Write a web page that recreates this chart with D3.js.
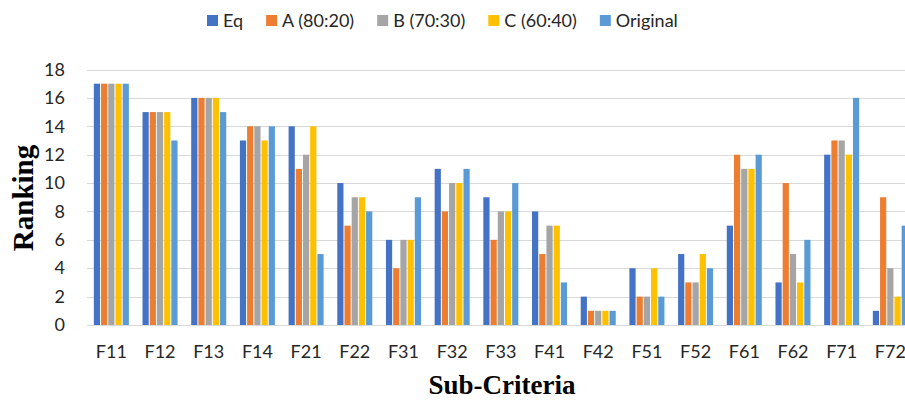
<!DOCTYPE html>
<html>
<head>
<meta charset="utf-8">
<script src="https://cdn.jsdelivr.net/npm/d3@7"></script>
<style>
  html, body { margin: 0; padding: 0; background: #fff; overflow: hidden; }
  svg { display: block; }
</style>
</head>
<body>
<svg id="chart" width="905" height="402"></svg>
<script>
// Sub-criteria on the x axis
const categories = ["F11","F12","F13","F14","F21","F22","F31","F32","F33","F41","F42","F51","F52","F61","F62","F71","F72"];

// Ranking of each sub-criterion under each weighting scenario
const eq       = [17,15,16,13,14,10, 6,11, 9, 8, 2, 4, 5, 7, 3,12, 1];
const a8020    = [17,15,16,14,11, 7, 4, 8, 6, 5, 1, 2, 3,12,10,13, 9];
const b7030    = [17,15,16,14,12, 9, 6,10, 8, 7, 1, 2, 3,11, 5,13, 4];
const c6040    = [17,15,16,13,14, 9, 6,10, 8, 7, 1, 4, 5,11, 3,12, 2];
const original = [17,13,15,14, 5, 8, 9,11,10, 3, 1, 2, 4,12, 6,16, 7];

const seriesNames = ["Eq", "A (80:20)", "B (70:30)", "C (60:40)", "Original"];
const seriesValues = [eq, a8020, b7030, c6040, original];
const seriesColors = ["#4472C4", "#ED7D31", "#A5A5A5", "#FFC000", "#5B9BD5"];

const yTicks = [0, 2, 4, 6, 8, 10, 12, 14, 16, 18];

const svg = d3.select("#chart");
const font = "Lato, 'Open Sans', sans-serif";
const textColor = "#262626";

// Plot area (the band axis runs past the right edge of the page)
const plot = { left: 87, right: 914.7, top: 69.5, bottom: 325 };

const x = d3.scaleBand()
  .domain(categories)
  .range([plot.left, plot.right])
  .paddingInner(0.26)
  .paddingOuter(0.13);

const xs = d3.scaleBand()
  .domain(seriesNames)
  .range([0, x.bandwidth()])
  .padding(0);

const y = d3.scaleLinear()
  .domain([0, 18])
  .range([plot.bottom, plot.top]);

// Horizontal gridlines
svg.append("g")
  .selectAll("line")
  .data(yTicks)
  .join("line")
  .attr("x1", plot.left)
  .attr("x2", plot.right)
  .attr("y1", d => Math.round(y(d)) + 0.5)
  .attr("y2", d => Math.round(y(d)) + 0.5)
  .attr("stroke", "#D9D9D9")
  .attr("stroke-width", 1.2);

// Bars
const data = categories.flatMap((c, i) =>
  seriesNames.map((s, j) => ({ cat: c, series: s, value: seriesValues[j][i], color: seriesColors[j] })));

svg.append("g")
  .selectAll("rect")
  .data(data)
  .join("rect")
  .attr("x", d => x(d.cat) + xs(d.series) + 0.5)
  .attr("width", xs.bandwidth() - 1)
  .attr("y", d => y(d.value))
  .attr("height", d => y(0) - y(d.value))
  .attr("fill", d => d.color);

// Y axis labels
const yAxis = d3.axisLeft(y).tickValues(yTicks).tickSize(0).tickPadding(0);
const gy = svg.append("g")
  .attr("transform", `translate(${plot.left - 22},0)`)
  .call(yAxis);
gy.select(".domain").remove();
gy.selectAll("text")
  .attr("font-family", font)
  .attr("font-size", 18)
  .attr("fill", textColor);

// X axis labels
const xAxis = d3.axisBottom(x).tickSize(0).tickPadding(0);
const gx = svg.append("g")
  .attr("transform", `translate(0,${plot.bottom + 20})`)
  .call(xAxis);
gx.select(".domain").remove();
gx.selectAll("text")
  .attr("font-family", font)
  .attr("font-size", 18)
  .attr("fill", textColor);

// Axis titles
svg.append("text")
  .attr("transform", "translate(33,198) rotate(-90)")
  .attr("text-anchor", "middle")
  .attr("font-family", "'Liberation Serif', 'Times New Roman', serif")
  .attr("font-weight", "bold")
  .attr("font-size", 29)
  .attr("fill", "#000")
  .text("Ranking");

svg.append("text")
  .attr("x", 502)
  .attr("y", 394)
  .attr("text-anchor", "middle")
  .attr("font-family", "'Liberation Serif', 'Times New Roman', serif")
  .attr("font-weight", "bold")
  .attr("font-size", 27)
  .attr("fill", "#000")
  .text("Sub-Criteria");

// Legend laid out left to right
const legend = svg.append("g");
let lx = 207;
seriesNames.forEach((name, j) => {
  const g = legend.append("g").attr("transform", `translate(${lx},0)`);
  g.append("rect")
    .attr("x", 0).attr("y", 15)
    .attr("width", 11).attr("height", 11)
    .attr("fill", seriesColors[j]);
  const t = g.append("text")
    .attr("x", 16).attr("y", 27)
    .attr("font-family", font)
    .attr("font-size", 18)
    .attr("fill", textColor)
    .text(name);
  lx += 16 + t.node().getComputedTextLength() + 23;
});
</script>
</body>
</html>
